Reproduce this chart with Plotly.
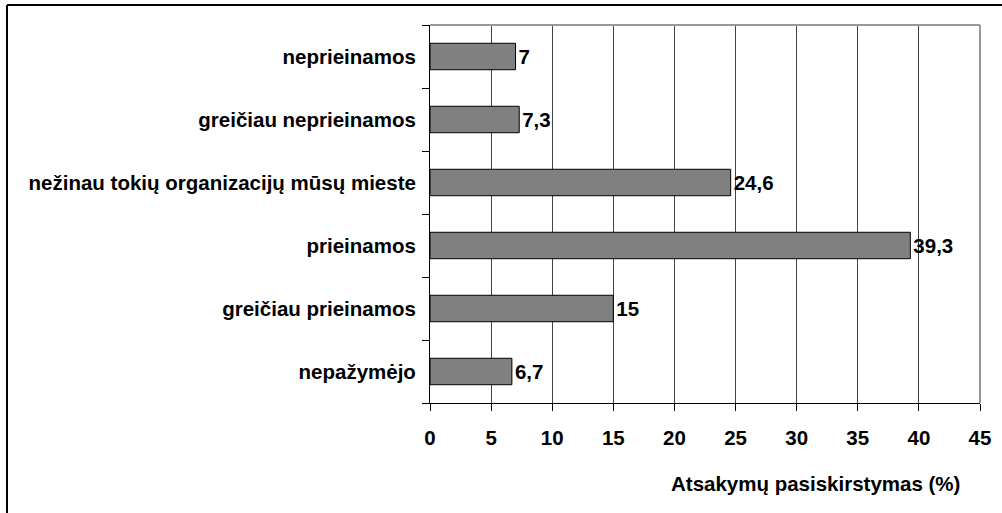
import plotly.graph_objects as go

categories = ["nepažymėjo", "greičiau prieinamos", "prieinamos",
              "nežinau tokių organizacijų mūsų mieste",
              "greičiau neprieinamos", "neprieinamos"]
values = [6.7, 15, 39.3, 24.6, 7.3, 7]
x_ticks = [0, 5, 10, 15, 20, 25, 30, 35, 40, 45]
x_title = "Atsakymų pasiskirstymas (%)"

labels = [("%g" % v).replace(".", ",") for v in values]

W, H = 1002, 513
L, R, T, B = 430, 980, 25, 403
pw, ph = R - L, B - T

def px(x):
    return (x - L) / pw

def py(y):
    return (B - y) / ph

font_family = "Liberation Sans, Arial, sans-serif"
FS = 20.5

fig = go.Figure(go.Bar(
    x=values, y=categories, orientation="h",
    width=0.42,
    marker=dict(color="#808080", line=dict(color="black", width=1)),
    text=labels, textposition="outside", cliponaxis=False,
    textfont=dict(family=font_family, size=FS, color="black", weight="bold"),
))

fig.update_layout(
    width=W, height=H,
    margin=dict(l=L, r=W - R, t=T, b=H - B),
    paper_bgcolor="white", plot_bgcolor="white",
    showlegend=False,
    font=dict(family=font_family, size=FS, color="black"),
    uniformtext=dict(minsize=FS, mode="show"),
    xaxis=dict(
        range=[0, 45], tickvals=x_ticks, ticktext=[str(t) for t in x_ticks],
        showgrid=True, gridcolor="#444444", gridwidth=1,
        showline=True, linecolor="black", linewidth=1,
        ticks="outside", ticklen=7, tickcolor="black",
        ticklabelstandoff=9,
        tickfont=dict(family=font_family, size=FS, color="black", weight="bold"),
        zeroline=False, fixedrange=True,
    ),
    yaxis=dict(
        categoryorder="array", categoryarray=categories,
        tickson="boundaries", ticks="outside", ticklen=7, tickcolor="black",
        showline=True, linecolor="black", linewidth=1,
        showgrid=False, ticklabelstandoff=9,
        tickfont=dict(family=font_family, size=FS, color="black", weight="bold"),
        fixedrange=True,
    ),
    shapes=[
        dict(type="line", xref="paper", yref="paper", x0=0, x1=1, y0=1, y1=1,
             line=dict(color="#999999", width=2)),
        dict(type="line", xref="paper", yref="paper", x0=1, x1=1, y0=0, y1=1,
             line=dict(color="#999999", width=2)),
        dict(type="line", xref="paper", yref="paper", x0=px(7), x1=px(7),
             y0=py(5), y1=py(H + 5), line=dict(color="black", width=2)),
        dict(type="line", xref="paper", yref="paper", x0=px(7), x1=px(W + 5),
             y0=py(5), y1=py(5), line=dict(color="black", width=2)),
    ],
    annotations=[
        dict(text=x_title, xref="paper", yref="paper", x=px(962), y=py(483),
             xanchor="right", yanchor="middle", showarrow=False,
             font=dict(family=font_family, size=FS, color="black", weight="bold")),
    ],
)

fig.write_html("out.html", config={"displayModeBar": False},
               post_script="document.body.style.margin='0px';")
